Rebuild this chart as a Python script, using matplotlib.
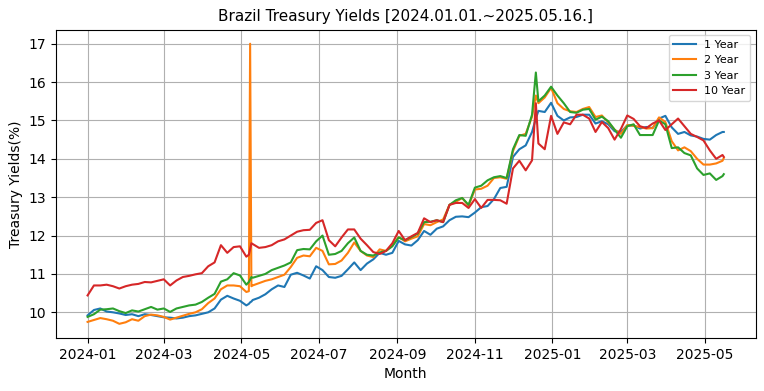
import pandas as pd
import matplotlib
matplotlib.use('Agg')
import matplotlib.pyplot as plt

dates = [
    '2024-01-01', '2024-01-06', '2024-01-11', '2024-01-16', '2024-01-21',
    '2024-01-26', '2024-01-31', '2024-02-05', '2024-02-10', '2024-02-15',
    '2024-02-20', '2024-02-25', '2024-03-01', '2024-03-06', '2024-03-11',
    '2024-03-16', '2024-03-21', '2024-03-26', '2024-03-31', '2024-04-05',
    '2024-04-10', '2024-04-15', '2024-04-20', '2024-04-25', '2024-04-30',
    '2024-05-05', '2024-05-07', '2024-05-08', '2024-05-09',
    '2024-05-10', '2024-05-15', '2024-05-20', '2024-05-25', '2024-05-30',
    '2024-06-04', '2024-06-09', '2024-06-14', '2024-06-19', '2024-06-24',
    '2024-06-29', '2024-07-04', '2024-07-09', '2024-07-14', '2024-07-19',
    '2024-07-24', '2024-07-29', '2024-08-03', '2024-08-08', '2024-08-13',
    '2024-08-18', '2024-08-23', '2024-08-28', '2024-09-02', '2024-09-07',
    '2024-09-12', '2024-09-17', '2024-09-22', '2024-09-27', '2024-10-02',
    '2024-10-07', '2024-10-12', '2024-10-17', '2024-10-22', '2024-10-27',
    '2024-11-01', '2024-11-06', '2024-11-11', '2024-11-16', '2024-11-21',
    '2024-11-26', '2024-12-01', '2024-12-06', '2024-12-11', '2024-12-16',
    '2024-12-19',
    '2024-12-21', '2024-12-26', '2024-12-31', '2025-01-05', '2025-01-10',
    '2025-01-15', '2025-01-20', '2025-01-25', '2025-01-30', '2025-02-04',
    '2025-02-09', '2025-02-14', '2025-02-19', '2025-02-24', '2025-03-01',
    '2025-03-06', '2025-03-11', '2025-03-16', '2025-03-21', '2025-03-26',
    '2025-03-31', '2025-04-05', '2025-04-10', '2025-04-15', '2025-04-20',
    '2025-04-25', '2025-04-30', '2025-05-05', '2025-05-10', '2025-05-15',
    '2025-05-16',
]

# yields (%)
y1 = [9.92, 10.06, 10.10, 10.02, 10.00, 9.97, 9.93, 9.95, 9.90, 9.95,
      9.93, 9.90, 9.87, 9.86, 9.84, 9.86, 9.90, 9.92, 9.96, 10.00,
      10.10, 10.33, 10.43, 10.36, 10.30, 10.18, 10.22, 10.26, 10.28,
      10.32, 10.38, 10.47, 10.60, 10.70, 10.66, 10.98, 11.03, 10.96, 10.88,
      11.20, 11.10, 10.92, 10.90, 10.95, 11.12, 11.30, 11.10, 11.27, 11.38,
      11.55, 11.50, 11.55, 11.86, 11.77, 11.74, 11.88, 12.12, 12.02, 12.18,
      12.24, 12.40, 12.49, 12.50, 12.48, 12.60, 12.74, 12.77, 12.95, 13.24,
      13.27, 14.05, 14.25, 14.35, 14.70, 15.05,
      15.25, 15.22, 15.46, 15.12, 15.00, 15.08, 15.09, 15.15, 15.15, 14.92,
      14.98, 14.90, 14.72, 14.70, 14.87, 14.87, 14.79, 14.83, 14.80, 15.05,
      15.12, 14.82, 14.65, 14.70, 14.61, 14.58, 14.52, 14.50, 14.62, 14.70, 14.70]

y2 = [9.75, 9.80, 9.85, 9.82, 9.78, 9.70, 9.74, 9.82, 9.78, 9.90,
      9.94, 9.92, 9.88, 9.81, 9.86, 9.91, 9.96, 10.00, 10.08, 10.24,
      10.36, 10.60, 10.70, 10.70, 10.68, 10.53, 10.55, 17.00, 10.68,
      10.70, 10.76, 10.82, 10.86, 10.92, 10.98, 11.18, 11.42, 11.48, 11.46,
      11.68, 11.60, 11.25, 11.26, 11.35, 11.55, 11.82, 11.60, 11.48, 11.44,
      11.64, 11.60, 11.75, 11.96, 11.85, 11.92, 11.98, 12.30, 12.27, 12.35,
      12.42, 12.80, 12.88, 12.98, 12.78, 13.20, 13.22, 13.30, 13.50, 13.52,
      13.48, 14.20, 14.60, 14.65, 15.10, 15.65,
      15.45, 15.60, 15.85, 15.45, 15.30, 15.24, 15.22, 15.30, 15.35, 15.09,
      15.13, 14.95, 14.76, 14.65, 14.88, 14.86, 14.83, 14.79, 14.80, 15.08,
      14.96, 14.46, 14.22, 14.30, 14.20, 14.00, 13.85, 13.85, 13.88, 13.95, 14.02]

y3 = [9.88, 9.95, 10.07, 10.08, 10.10, 10.03, 9.98, 10.05, 10.02, 10.08,
      10.14, 10.07, 10.10, 10.01, 10.10, 10.14, 10.18, 10.20, 10.27, 10.38,
      10.48, 10.80, 10.86, 11.02, 10.96, 10.72, 10.79, 10.85, 10.92,
      10.90, 10.95, 11.00, 11.10, 11.16, 11.22, 11.30, 11.62, 11.65, 11.64,
      11.85, 12.00, 11.50, 11.52, 11.60, 11.80, 11.95, 11.60, 11.50, 11.48,
      11.56, 11.60, 11.72, 11.95, 11.88, 11.96, 12.05, 12.35, 12.36, 12.40,
      12.35, 12.80, 12.92, 12.98, 12.80, 13.25, 13.30, 13.44, 13.52, 13.55,
      13.50, 14.25, 14.62, 14.60, 15.15, 16.25,
      15.50, 15.65, 15.88, 15.65, 15.45, 15.22, 15.20, 15.28, 15.30, 15.02,
      15.10, 14.98, 14.76, 14.55, 14.85, 14.90, 14.62, 14.62, 14.62, 15.00,
      14.90, 14.28, 14.30, 14.15, 14.09, 13.75, 13.58, 13.62, 13.45, 13.55, 13.60]

y10 = [10.44, 10.70, 10.70, 10.72, 10.68, 10.62, 10.68, 10.72, 10.74, 10.79,
       10.78, 10.82, 10.86, 10.70, 10.83, 10.92, 10.95, 10.99, 11.02, 11.20,
       11.30, 11.75, 11.55, 11.70, 11.72, 11.45, 11.50, 11.65, 11.80,
       11.78, 11.68, 11.70, 11.75, 11.85, 11.90, 12.00, 12.10, 12.14, 12.15,
       12.33, 12.40, 11.88, 11.72, 11.95, 12.16, 12.16, 11.92, 11.75, 11.57,
       11.52, 11.60, 11.80, 12.12, 11.88, 11.98, 12.07, 12.45, 12.35, 12.40,
       12.35, 12.80, 12.85, 12.85, 12.72, 12.95, 12.72, 12.93, 12.93, 12.92,
       12.83, 13.75, 13.95, 13.70, 13.96, 15.45,
       14.40, 14.25, 15.12, 14.65, 14.95, 14.90, 15.15, 15.15, 15.05, 14.70,
       14.96, 14.80, 14.50, 14.78, 15.13, 15.04, 14.85, 14.80, 14.92, 15.00,
       14.75, 14.90, 15.05, 14.85, 14.65, 14.57, 14.48, 14.22, 14.00, 14.10, 14.05]

labels = ['1 Year', '2 Year', '3 Year', '10 Year']

df = pd.DataFrame({'1 Year': y1, '2 Year': y2, '3 Year': y3, '10 Year': y10},
                  index=pd.to_datetime(dates))

fig, ax = plt.subplots(figsize=(7.64, 3.91), dpi=100)
for lab in labels:
    ax.plot(df.index, df[lab], label=lab, linewidth=1.5)

ax.set_title('Brazil Treasury Yields [2024.01.01.~2025.05.16.]', fontsize=11)
ax.set_xlabel('Month')
ax.set_ylabel('Treasury Yields(%)')
ax.grid(True)
ax.legend(loc='upper right', fontsize=8)

plt.subplots_adjust(left=0.073, right=0.989, top=0.924, bottom=0.136)
plt.savefig('out.png', dpi=100)
